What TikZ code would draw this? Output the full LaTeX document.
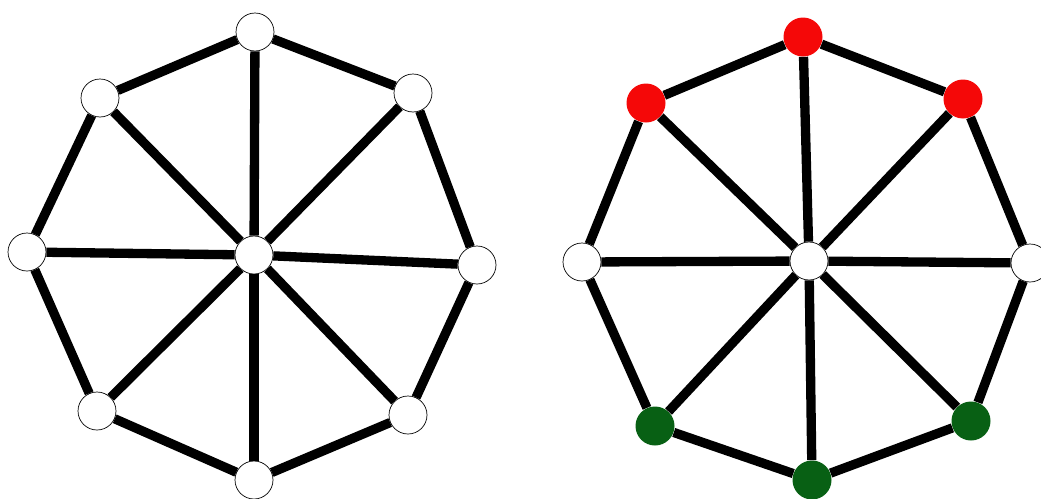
\documentclass[tikz,border=0pt]{standalone}
\usepackage{tikz}
\definecolor{nodered}{RGB}{245,8,8}
\definecolor{nodegreen}{RGB}{8,96,20}

\begin{document}
\begin{tikzpicture}[x=0.02cm, y=-0.02cm,
  vertex/.style={circle,draw,thin,fill=white,minimum size=0.76cm,inner sep=0pt},
  redv/.style={circle,fill=nodered,minimum size=0.78cm,inner sep=0pt},
  greenv/.style={circle,fill=nodegreen,minimum size=0.78cm,inner sep=0pt},
  edge/.style={line width=5.3pt}]
\useasboundingbox (0,0) rectangle (1041,498);

% Left wheel
\node[vertex] at (254,255) (lc) {};
\node[vertex] at (255,32) (l1) {};
\node[vertex] at (413,93) (l2) {};
\node[vertex] at (477,265) (l3) {};
\node[vertex] at (408,415) (l4) {};
\node[vertex] at (254,480) (l5) {};
\node[vertex] at (97,411) (l6) {};
\node[vertex] at (27,252) (l7) {};
\node[vertex] at (100,98) (l8) {};

% Right wheel
\node[vertex] at (809,261) (rc) {};
\node[redv] at (803,37) (r1) {};
\node[redv] at (963,99) (r2) {};
\node[vertex] at (1030,263) (r3) {};
\node[greenv] at (971,421) (r4) {};
\node[greenv] at (812,480) (r5) {};
\node[greenv] at (655,426) (r6) {};
\node[vertex] at (582,262) (r7) {};
\node[redv] at (646,103) (r8) {};

% Rim and spokes
\foreach \w in {l,r} {
  \foreach \i/\j in {1/2,2/3,3/4,4/5,5/6,6/7,7/8,8/1} {
    \draw[edge] (\w\i) -- (\w\j);
  }
  \foreach \i in {1,...,8} {
    \draw[edge] (\w c) -- (\w\i);
  }
}

\end{tikzpicture}
\end{document}
